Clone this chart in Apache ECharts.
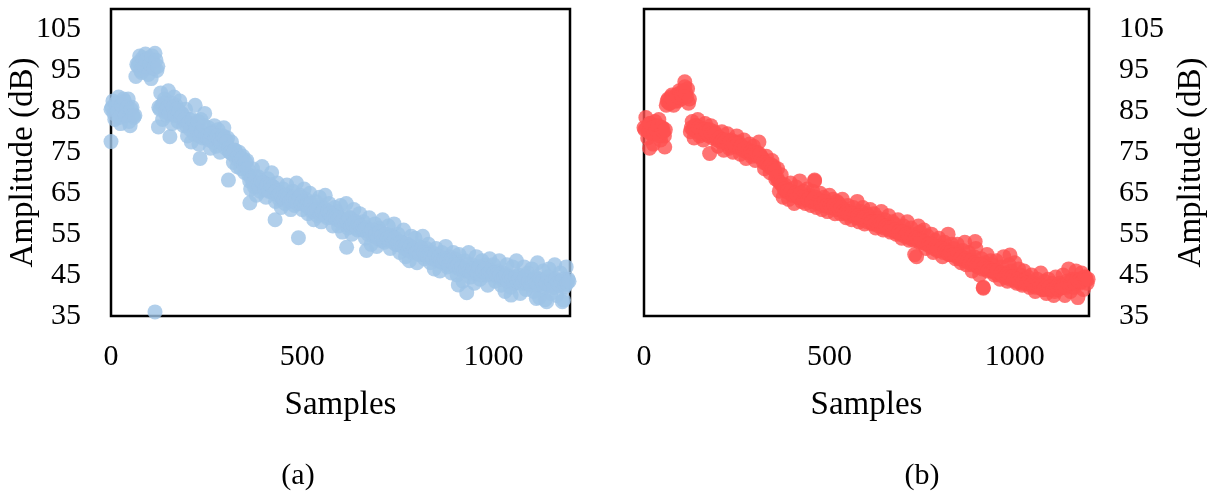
<!DOCTYPE html>
<html>
<head>
<meta charset="utf-8">
<script src="https://cdn.jsdelivr.net/npm/echarts@6/dist/echarts.min.js"></script>
<style>
  html, body { margin: 0; padding: 0; background: #fff; }
  #chart { width: 1214px; height: 496px; }
</style>
</head>
<body>
<div id="chart"></div>
<script>
// ---------- DATA ----------
// Main readings are at samples 0,5,10,...; the second set at samples 2.5,7.5,12.5,...
const SAMPLE_STEP = 5;
const SAMPLE_OFFSET = 2.5;

// (a) amplitude readings (dB), samples 0..1195
const ampA = [
  85.5, 87.5, 83, 86, 88.5, 82, 85, 87.5, 84, 88, 81.5, 86, 83.5,
  93.5, 96, 98.5, 94.5, 97.5, 99, 95.5, 98, 93, 97, 99.2, 95,
  86, 89.5, 83, 88, 84, 90, 85, 82, 88.5, 86.5, 82.5, 87.5, 84.5, 81.5,
  85.5, 79, 83, 77.5, 81.5, 86.5, 80, 77, 83, 78.5, 84.5,
  78.5, 81, 76, 80, 81.5, 76.5, 80.5, 75, 78, 81, 76,
  78.5, 75, 77.5, 72.5, 75.5, 71.5, 75, 71, 74, 70, 73,
  69.5, 66, 71, 66.5, 64.5, 69, 65.5, 71.5, 67.5, 64, 68.5, 65.5, 70,
  66.5, 63, 67.5, 63.5, 61.5, 66, 62.5, 67, 64.5, 61, 65.5, 62, 67.5, 63, 64.5, 61, 66,
  63.5, 60, 65, 60.5, 58.5, 63, 59.5, 64, 58, 61.5, 64.5, 59, 62.5, 59.5, 57, 61.5,
  60.5, 57, 62, 55.5, 59, 62.5, 56.5, 59, 55, 61, 58, 56, 60, 56.5,
  58, 54, 56, 59, 52.5, 55.5, 57.5, 52, 56.5, 53.5, 58.5, 53, 55, 57, 51.5, 54.5, 57.5, 52.5,
  55, 50.5, 53, 56, 49.5, 52.5, 48.5, 54.5, 51.5, 54, 48, 52, 50, 54.5, 49, 51.5,
  52.5, 48, 50.5, 46.5, 51.5, 49, 46, 50.5, 48, 52, 47, 49.5, 45.5, 50.5,
  49, 45, 50, 47, 43.5, 48.5, 46, 50.5, 44.5, 47.5, 43, 49.5, 46.5, 44, 48.5, 45.5, 47.5, 42.5, 49, 46,
  47.5, 43.5, 46, 48.5, 42.5, 45.5, 41, 47.5, 44.5, 42, 47, 43, 48.5, 45, 40.5, 44, 47, 41.5, 45.5, 43,
  46.5, 41, 44.5, 48, 39.5, 43, 46, 39, 42.5, 46.5, 40.5, 44, 47.5, 40, 43.5, 45.5, 38.5, 42, 47, 44
];
// (a) amplitude readings (dB), samples 2.5..1197.5
const ampA2 = [
  86, 84.5, 87, 85, 83.5, 86.5, 88, 84, 86, 82.5, 85.5, 84, 84,
  96.5, 97, 95, 98, 96, 97.5, 94, 96.5, 98.5, 95.5, 97.5, 96,
  85.5, 86.5, 87, 85, 86, 84.5, 87, 86, 84, 85.5, 85, 83.5, 84, 83,
  81.5, 82, 80.5, 83, 79.5, 81, 82.5, 79, 80, 81.5, 79,
  79, 78, 79.5, 77.5, 78.5, 79, 78, 77.5, 79, 78.5, 77.5,
  76, 75, 74.5, 75.5, 73.5, 74, 73, 73.5, 72, 72.5, 71,
  68, 68.5, 67.5, 69, 67, 66.5, 68, 67.5, 66, 67, 65.5, 67, 66.5,
  65, 65.5, 64.5, 65, 64, 63.5, 64.5, 64, 63, 63.5, 64, 63, 62.5, 64, 62.5, 63, 62,
  62, 61.5, 62.5, 61, 60.5, 61, 61.5, 60, 60.5, 61, 59.5, 60.5, 60, 59, 59.5, 59,
  58.5, 59, 58, 58.5, 57.5, 58, 59, 57, 57.5, 58, 56.5, 57.5, 57, 56,
  56, 56.5, 55, 55.5, 56, 54.5, 55, 54, 55.5, 54.5, 53.5, 55, 54, 53.5, 54.5, 53, 54, 52.5,
  52.5, 53, 52, 51.5, 52.5, 51, 52, 50.5, 51.5, 50.5, 51, 50, 51.5, 50.5, 50, 49.5,
  50, 49.5, 49, 50, 48.5, 49.5, 48.5, 48, 49, 48.5, 47.5, 48.5, 48, 47.5,
  47, 47.5, 46.5, 47, 46, 46.5, 47.5, 46, 45.5, 46.5, 46, 45.5, 47, 45, 46, 46.5, 45, 45.5, 46, 45,
  45.5, 45, 44.5, 45, 44, 44.5, 45, 43.5, 44.5, 44, 43, 44.5, 43.5, 44, 43, 43.5, 44.5, 43, 43.5, 42.5,
  43.5, 44, 43, 42.5, 44, 43.5, 42, 43, 44.5, 42.5, 43.5, 42, 44, 43, 42.5, 43.5, 44, 42.5, 43, 43.5
];
// (a) isolated points: [sample, dB]
const outliersA = [
  [0, 77.6], [115, 36], [124, 81.2], [154, 78.8], [233, 73.5], [307, 68.2],
  [363, 62.6], [429, 58.5], [490, 54.1], [616, 51.8], [668, 51], [908, 42.6],
  [930, 40.7], [1046, 40.1], [1112, 39.3], [1139, 38.5], [1183, 38.9]
];

// (b) amplitude readings (dB), samples 0..1195
const ampB = [
  81, 83.5, 78.5, 82, 79.5, 77, 82.5, 80, 83, 78, 81, 79,
  86.5, 88, 87, 89, 86.5, 88.5, 87.5, 90, 88, 89.5, 91, 88.5, 87,
  80, 82.5, 78.5, 81.5, 83, 79, 81, 78, 82, 80.5, 79, 81.5, 78.5, 80,
  79, 76.5, 78.5, 80, 75.5, 77.5, 79.5, 76, 78, 75, 77.5, 79,
  77.5, 74.5, 76, 78, 73.5, 75.5, 77, 74, 76.5, 73, 75, 77.5, 74,
  73.5, 71, 74, 72, 70, 73, 71.5,
  68.5, 71, 65.5, 69.5, 64, 67,
  66, 63.5, 67.5, 64.5, 62.5, 66.5, 64, 68, 63, 65.5, 62.5, 66,
  64.5, 62, 65.5, 68, 61.5, 63.5, 65, 61, 64, 62.5, 60.5, 64.5, 62, 63.5, 60, 63,
  62.5, 60, 63.5, 61, 59, 62, 60.5, 58.5, 61.5, 59.5, 63, 58, 60.5, 61.5, 57.5, 60,
  59.5, 61, 57.5, 60, 56.5, 59, 58, 60.5, 56, 58.5, 57, 59.5, 55.5, 58,
  57.5, 55, 58.5, 56, 54, 57, 55.5, 58, 53.5, 56.5, 55, 50, 54.5, 57,
  55.5, 53, 56, 51.5, 54.5, 52.5, 55, 50.5, 53.5, 51, 54, 52, 49.5, 53, 51.5, 55, 50, 52.5,
  51.5, 49, 52.5, 50, 48, 51, 53, 47.5, 50.5, 48.5, 46, 49.5, 51.5, 47, 45, 49, 42, 48, 50, 46.5, 48.5,
  47.5, 45, 48.5, 46, 44, 47, 49.5, 45.5, 43.5, 47.5, 46, 44.5, 48, 43, 46.5, 45, 42.5, 46, 44,
  44.5, 42, 45, 43, 41, 44, 42.5, 45.5, 41.5, 43.5, 40.5, 44, 42, 43, 40, 44.5, 41.5, 43,
  42.5, 45, 40, 43.5, 46.5, 41, 44, 42, 46, 39.5, 43, 45.5, 41.5, 44.5, 43
];
// (b) amplitude readings (dB), samples 2.5..1197.5
const ampB2 = [
  80.5, 81, 80, 82, 81, 79.5, 80.5, 81.5, 79, 81, 80, 80.5,
  87.5, 87, 88.5, 88, 87.5, 89, 88.5, 89.5, 89, 90, 89.5, 90.5, 88,
  81, 80.5, 81.5, 80, 81, 80.5, 79.5, 80.5, 80, 79.5, 80.5, 79.5, 79, 79.5,
  78, 78.5, 77.5, 78, 77.5, 78, 77, 77.5, 76.5, 77, 76.5, 77,
  76, 76.5, 75.5, 76, 75, 75.5, 75, 74.5, 75, 74.5, 74, 74.5, 73.5,
  72.5, 72.5, 72, 71.5, 72, 71, 70.5,
  69, 68, 67.5, 67, 66, 65.5,
  65.5, 65, 65.5, 64.5, 65, 64.5, 64, 65, 64, 63.5, 64, 63.5,
  63.5, 63, 63.5, 64, 62.5, 63, 62.5, 62, 63, 62, 61.5, 62, 61.5, 62, 61, 61.5,
  61, 61.5, 60.5, 60, 60.5, 60, 59.5, 60, 59.5, 59, 59.5, 59, 58.5, 59, 58.5, 58,
  58.5, 58, 58, 57.5, 58, 57, 57.5, 57, 56.5, 57, 56.5, 56, 56.5, 56,
  56, 55.5, 55.5, 55, 55.5, 54.5, 55, 54.5, 54, 54.5, 53.5, 54, 53.5, 53,
  53.5, 53, 53, 52.5, 52.5, 52, 52.5, 51.5, 52, 51.5, 51, 51.5, 50.5, 51, 50.5, 50, 50.5, 50,
  50, 49.5, 50, 49, 49.5, 48.5, 49, 48.5, 48, 48.5, 47.5, 48, 47.5, 47, 47.5, 46.5, 47, 46.5, 46, 46.5, 46,
  46, 45.5, 46, 45, 45.5, 45, 44.5, 45, 44.5, 44, 44.5, 44, 43.5, 44, 43.5, 43, 43.5, 43, 43,
  43, 42.5, 43, 42.5, 42, 42.5, 42, 42.5, 41.5, 42, 41.5, 42, 41.5, 41.5, 41, 42, 41.5, 42,
  42, 42.5, 42, 43, 42.5, 43, 43.5, 43, 44, 43.5, 44, 43.5, 44.5, 44, 44
];
// (b) isolated points: [sample, dB]
const outliersB = [
  [15, 76], [56, 76.3], [110, 92.2], [177, 74.7], [460, 68.2], [735, 49.5],
  [893, 53.2], [915, 41.8], [987, 49.9]
];

const xTickLabels = [0, 500, 1000];
const yTickLabels = [35, 45, 55, 65, 75, 85, 95, 105];
const xTitle = 'Samples';
const yTitle = 'Amplitude (dB)';
const captions = ['(a)', '(b)'];

// ---------- BUILD ----------
function toPoints(main, second, extra) {
  return main.map((v, i) => [i * SAMPLE_STEP, v])
    .concat(second.map((v, i) => [i * SAMPLE_STEP + SAMPLE_OFFSET, v]))
    .concat(extra);
}
const FONT = "'Liberation Serif', 'Times New Roman', serif";
const TICK_SIZE = 30;
const TITLE_SIZE = 33;

function xAxisCfg(idx) {
  return {
    gridIndex: idx, type: 'value', min: 0, max: 1200, interval: 100,
    name: xTitle, nameLocation: 'middle', nameGap: 73, nameMoveOverlap: false,
    nameTextStyle: { fontFamily: FONT, fontSize: TITLE_SIZE, color: '#000' },
    axisLine: { show: false }, axisTick: { show: false }, splitLine: { show: false },
    axisLabel: {
      fontFamily: FONT, fontSize: TICK_SIZE, color: '#000', margin: 26,
      formatter: v => xTickLabels.indexOf(v) >= 0 ? String(v) : ''
    }
  };
}
function yAxisCfg(idx, pos, gap) {
  return {
    gridIndex: idx, type: 'value', min: 35, max: 110, interval: 5, position: pos,
    name: yTitle, nameLocation: 'middle', nameGap: gap, nameRotate: 90, nameMoveOverlap: false,
    nameTextStyle: { fontFamily: FONT, fontSize: TITLE_SIZE, color: '#000' },
    axisLine: { show: false }, axisTick: { show: false }, splitLine: { show: false },
    axisLabel: {
      fontFamily: FONT, fontSize: TICK_SIZE, color: '#000', margin: 30,
      formatter: v => yTickLabels.indexOf(v) >= 0 ? String(v) : ''
    }
  };
}

const chart = echarts.init(document.getElementById('chart'), null, { renderer: 'canvas' });
chart.setOption({
  animation: false,
  backgroundColor: '#fff',
  grid: [
    { left: 111, top: 9, width: 459, height: 307, show: true, borderColor: '#000', borderWidth: 2.5, backgroundColor: 'transparent' },
    { left: 644, top: 9, width: 445, height: 307, show: true, borderColor: '#000', borderWidth: 2.5, backgroundColor: 'transparent' }
  ],
  xAxis: [xAxisCfg(0), xAxisCfg(1)],
  yAxis: [yAxisCfg(0, 'left', 71), yAxisCfg(1, 'right', 86)],
  series: [
    {
      type: 'scatter', xAxisIndex: 0, yAxisIndex: 0, symbolSize: 15, clip: false,
      itemStyle: { color: '#9DC3E6', opacity: 0.8 },
      data: toPoints(ampA, ampA2, outliersA)
    },
    {
      type: 'scatter', xAxisIndex: 1, yAxisIndex: 1, symbolSize: 15, clip: false,
      itemStyle: { color: '#FF5050', opacity: 0.8 },
      data: toPoints(ampB, ampB2, outliersB)
    }
  ],
  graphic: [
    { type: 'text', x: 298, y: 476, style: { text: captions[0], font: TICK_SIZE + 'px ' + FONT, fill: '#000', textAlign: 'center', textVerticalAlign: 'middle' } },
    { type: 'text', x: 922, y: 476, style: { text: captions[1], font: TICK_SIZE + 'px ' + FONT, fill: '#000', textAlign: 'center', textVerticalAlign: 'middle' } }
  ]
});
</script>
</body>
</html>
